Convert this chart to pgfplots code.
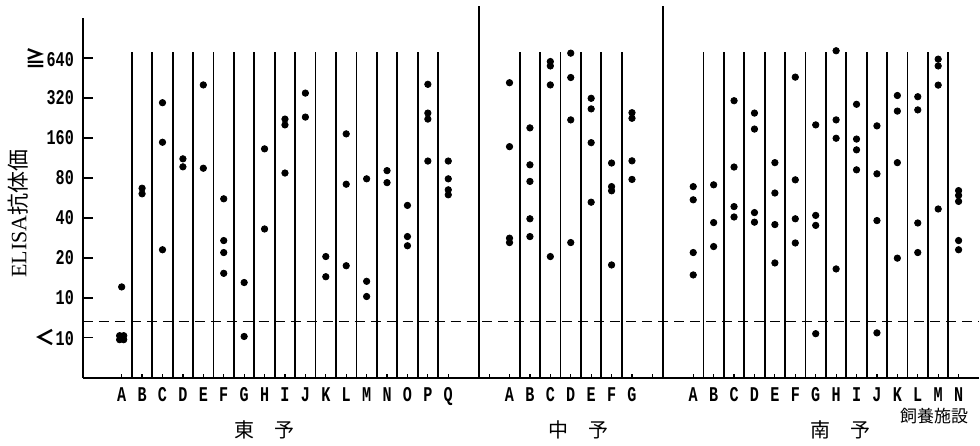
\documentclass[border=0pt]{standalone}
\usepackage{pgfplots}
\pgfplotsset{compat=1.18}
\usepackage{fontspec}
\setmainfont{Liberation Serif}
\newfontfamily\jp{Noto Sans CJK JP}
\newfontfamily\tk[FakeStretch=0.72]{Liberation Mono}

% y is in steps of doubling: 0 = <10, 1 = 10, 2 = 20 ... 7 = >=640
\pgfplotstableread{
x y
0.9 0.05
1.1 0.05
0.9 -0.05
1.1 -0.05
1 1.27
2 3.74
2 3.6
3 5.88
3 4.89
3 2.2
4 4.475
4 4.275
5 6.325
5 4.24
6 3.475
6 2.43
6 2.13
6 1.61
7 1.38
7 0.03
8 4.725
8 2.72
9 5.47
9 5.325
9 4.12
10 6.12
10 5.52
11 2.03
11 1.525
12 5.1
12 3.84
12 1.8
13 3.975
13 1.41
13 1.03
14 4.18
14 3.88
15 3.31
15 2.53
15 2.3
16 6.34
16 5.62
16 5.47
16 4.42
17 4.42
17 3.975
17 3.7
17 3.575
}\toyo

\pgfplotstableread{
x y
20 6.38
20 4.78
20 2.49
20 2.38
21 5.25
21 4.325
21 3.91
21 2.975
21 2.53
22 6.91
22 6.8
22 6.325
22 2.03
23 7.12
23 6.51
23 5.45
23 2.38
24 5.99
24 5.725
24 4.88
24 3.39
25 4.37
25 3.78
25 3.675
25 1.82
26 5.63
26 5.49
26 4.425
26 3.96
}\chuyo

\pgfplotstableread{
x y
29 3.78
29 3.45
29 2.13
29 1.57
30 3.825
30 2.88
30 2.28
31 5.93
31 4.27
31 3.28
31 3.02
32 5.62
32 5.22
32 3.13
32 2.89
33 4.38
33 3.62
33 2.83
33 1.87
34 6.52
34 3.95
34 2.975
34 2.37
35 5.325
35 3.06
35 2.81
35 0.1
36 7.18
36 5.45
36 4.99
36 1.72
37 5.84
37 4.97
37 4.7
37 4.2
38 5.3
38 4.1
38 2.93
38 0.12
39 6.06
39 5.67
39 4.38
39 1.99
40 6.03
40 5.7
40 2.87
40 2.13
41 6.97
41 6.8
41 6.32
41 3.22
42 3.68
42 3.56
42 3.41
42 2.43
42 2.2
}\nanyo

\begin{document}
\begin{tikzpicture}
\begin{axis}[
  scale only axis, width=448.5pt, height=180pt,
  xmin=-0.9, xmax=43, ymin=-1, ymax=8,
  axis x line=bottom, axis y line=left,
  axis line style={-, line width=1pt},
  clip=false,
  tick align=inside,
  xtick={1,2,3,4,5,6,7,8,9,10,11,12,13,14,15,16,17,19,20,21,22,23,24,25,26,27,29,30,31,32,33,34,35,36,37,38,39,40,41,42},
  xticklabels={A,B,C,D,E,F,G,H,I,J,K,L,M,N,O,P,Q,{},A,B,C,D,E,F,G,{},A,B,C,D,E,F,G,H,I,J,K,L,M,N},
  ytick={0,1,2,3,4,5,6,7},
  yticklabels={{\jp ＜}10,10,20,40,80,160,320,{\jp ≧}640},
  xtick style={/pgfplots/major tick length=2pt, line width=0.6pt, black},
  ytick style={/pgfplots/major tick length=5pt, line width=0.8pt, black},
  xticklabel style={font=\tk\bfseries\fontsize{10.5}{10.5}\selectfont, yshift=-1.5pt},
  yticklabel style={font=\tk\bfseries\fontsize{10.5}{10.5}\selectfont, xshift=-1pt},
  ylabel={ELISA{\jp 抗体価}},
  every axis y label/.style={at={(rel axis cs:-0.0725,0.456)}, rotate=90, anchor=center, font=\fontsize{11}{11}\selectfont},
]
% keeps the page the size of the reference
\path (rel axis cs:-0.0925,-0.178) rectangle (rel axis cs:1,1.05);

\pgfplotsinvokeforeach{1.5,2.5,3.5,4.5,5.5,6.5,7.5,8.5,9.5,10.5,11.5,12.5,13.5,14.5,15.5,16.5,20.5,21.5,22.5,23.5,24.5,25.5,29.5,30.5,31.5,32.5,33.5,34.5,35.5,36.5,37.5,38.5,39.5,40.5,41.5}{
  \draw[line width=0.9pt] (axis cs:#1,-1) -- (axis cs:#1,7.15);
}
\draw[line width=1pt] (axis cs:18.5,-1) -- (axis cs:18.5,8.3);
\draw[line width=1pt] (axis cs:27.5,-1) -- (axis cs:27.5,8.3);
\draw[line width=0.7pt, dash pattern=on 5pt off 3pt] (axis cs:-0.9,0.4) -- (axis cs:43,0.4);

\addplot[only marks, mark=*, mark size=1.6pt, black] table {\toyo};
\addplot[only marks, mark=*, mark size=1.6pt, black] table {\chuyo};
\addplot[only marks, mark=*, mark size=1.6pt, black] table {\nanyo};

\node[font=\jp\fontsize{10}{10}\selectfont] at (axis cs:8,-2.3) {東　予};
\node[font=\jp\fontsize{10}{10}\selectfont] at (axis cs:23.4,-2.3) {中　予};
\node[font=\jp\fontsize{10}{10}\selectfont] at (axis cs:36.2,-2.3) {南　予};
\node[font=\jp\fontsize{8.5}{8.5}\selectfont] at (axis cs:40.8,-1.95) {飼養施設};
\end{axis}
\end{tikzpicture}
\end{document}
